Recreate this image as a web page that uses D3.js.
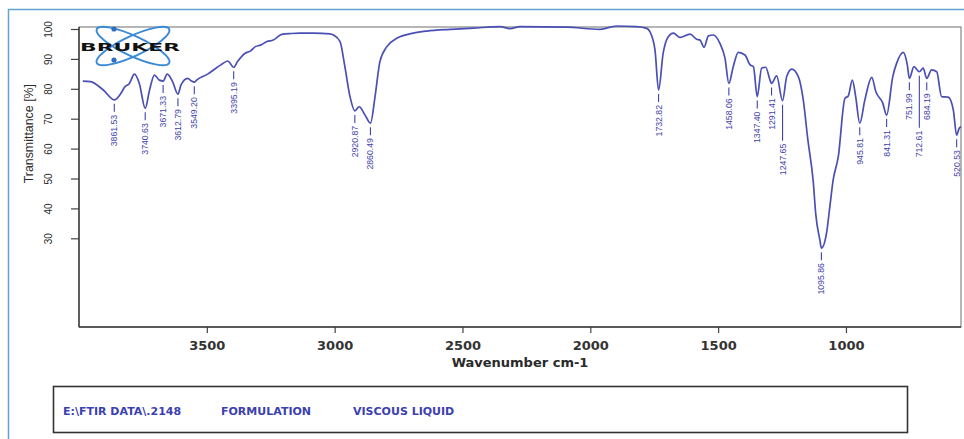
<!DOCTYPE html>
<html>
<head>
<meta charset="utf-8">
<script src="https://cdn.jsdelivr.net/npm/d3@7"></script>
<style>
  body { margin: 0; background: #fff; }
  svg { display: block; }
</style>
</head>
<body>
<div class="chart"></div>
<script>
// spectrum (wavenumber cm-1, transmittance %)
const wavenumber = [3985, 3955, 3905, 3862, 3836, 3822, 3803, 3783, 3764, 3741, 3724, 3705, 3686, 3671, 3655, 3634,
  3613, 3601, 3575, 3560, 3549, 3540, 3497, 3445, 3418, 3395, 3380, 3350, 3330, 3310, 3290, 3265, 3240, 3207,
  3170, 3135, 3083, 3018, 3005, 2979, 2960, 2940, 2921, 2904, 2881, 2860, 2842, 2823, 2796, 2757, 2692, 2640,
  2549, 2458, 2353, 2314, 2275, 2092, 1962, 1897, 1819, 1779, 1767, 1747, 1733, 1715, 1695, 1675, 1649, 1610,
  1584, 1571, 1555, 1538, 1519, 1493, 1473, 1458, 1441, 1421, 1395, 1375, 1362, 1347, 1330, 1314, 1297, 1291,
  1271, 1248, 1232, 1212, 1186, 1167, 1149, 1128, 1118, 1102, 1096, 1076, 1063, 1050, 1030, 1004, 991, 975,
  962, 946, 926, 899, 883, 856, 841, 817, 802, 776, 760, 752, 734, 713, 698, 684, 665, 645, 626, 600, 580,
  567, 557, 550];
const transmittance = [82.6, 82.4, 79.6, 76.3, 78.5, 80.5, 81.8, 84.9, 81.8, 73.5, 79.6, 84.6, 82.9, 82.6, 84.9, 82.4,
  78.2, 81.3, 83.5, 82.6, 82.2, 82.9, 84.9, 88.0, 89.3, 87.2, 89.1, 91.9, 92.6, 94.1, 94.6, 95.8, 96.3, 98.2,
  98.5, 98.6, 98.6, 98.4, 98.0, 95.8, 87.4, 77.4, 72.6, 74.0, 71.2, 68.5, 77.4, 89.1, 94.1, 96.9, 98.6, 99.3,
  99.9, 100.3, 100.8, 100.1, 100.8, 100.6, 99.9, 101.0, 100.8, 100.2, 99.1, 93.0, 79.6, 91.9, 97.4, 98.6, 97.2, 98.3,
  96.6, 96.3, 93.9, 97.7, 98.0, 95.2, 90.2, 81.8, 87.4, 92.2, 91.3, 88.0, 87.4, 77.4, 86.9, 87.2, 82.9, 81.8,
  84.3, 76.0, 84.0, 86.6, 84.0, 76.3, 62.9, 49.0, 38.0, 29.4, 26.7, 31.7, 40.6, 49.5, 57.3, 76.8, 77.6, 82.9,
  77.4, 68.5, 76.3, 83.8, 79.0, 75.2, 71.2, 84.0, 88.5, 92.2, 88.0, 83.5, 87.4, 85.7, 86.9, 83.5, 86.3, 85.7, 77.4, 77.2, 72.9,
  64.5, 66.8, 67.3];

const peakLabels = [3861.53, 3740.63, 3671.33, 3612.79, 3549.20, 3395.19, 2920.87, 2860.49, 1732.82, 1458.06,
  1347.40, 1291.41, 1247.65, 1095.86, 945.81, 841.31, 751.99, 712.61, 684.19, 520.53];

const xTicks = [3500, 3000, 2500, 2000, 1500, 1000];
const yTicks = [30, 40, 50, 60, 70, 80, 90, 100];
const footerText = ["E:\\FTIR DATA\\.2148", "FORMULATION", "VISCOUS LIQUID"];

const width = 964;
const height = 439;
const margin = {top: 27, right: 3, bottom: 112, left: 79};
const lineColor = "#4a4fb5";
const labelColor = "#3f43ab";

const svg = d3.select(".chart")
  .append("svg")
  .attr("width", width)
  .attr("height", height);

// outer blue frame (runs off the right and bottom of the picture)
svg.append("rect")
  .attr("x", 8.5).attr("y", 9.5)
  .attr("width", 1000).attr("height", 500)
  .attr("fill", "none")
  .attr("stroke", "#62a5d1")
  .attr("stroke-width", 1.5);

const x = d3.scaleLinear()
  .domain([4000, 550])
  .range([margin.left, width - margin.right]);

const y = d3.scaleLinear()
  .domain([0, 100])
  .range([328, 29]);

const plotBottom = height - margin.bottom;

// plot box
svg.append("rect")
  .attr("x", margin.left).attr("y", margin.top)
  .attr("width", width - margin.right - margin.left)
  .attr("height", plotBottom - margin.top)
  .attr("fill", "none")
  .attr("stroke", "#858585")
  .attr("stroke-width", 1.2);

// x axis
const xAxis = svg.append("g")
  .attr("transform", `translate(0,${plotBottom})`)
  .call(d3.axisBottom(x).tickValues(xTicks).tickSize(6).tickPadding(8).tickFormat(d3.format("d")));
xAxis.select(".domain").remove();
xAxis.selectAll("line").attr("stroke", "#444").attr("stroke-width", 1.2);
xAxis.selectAll("text")
  .attr("fill", "#333")
  .style("font-family", "DejaVu Sans")
  .style("font-weight", "bold")
  .style("font-size", "13px");

// y axis, labels turned like the original
const yAxis = svg.append("g")
  .attr("transform", `translate(${margin.left},0)`)
  .call(d3.axisLeft(y).tickValues(yTicks).tickSize(8));
yAxis.select(".domain").remove();
yAxis.selectAll("line").attr("stroke", "#444").attr("stroke-width", 1.2);
yAxis.selectAll("text")
  .attr("x", null).attr("dy", null)
  .attr("transform", "translate(-27.5,0) rotate(-90)")
  .attr("text-anchor", "middle")
  .attr("fill", "#2a2a2a")
  .style("font-family", "Liberation Sans")
  .style("font-size", "10px");

// dark left and bottom axis lines
svg.append("line")
  .attr("x1", margin.left).attr("x2", margin.left)
  .attr("y1", margin.top).attr("y2", plotBottom)
  .attr("stroke", "#3a3a3a").attr("stroke-width", 1.4);
svg.append("line")
  .attr("x1", margin.left).attr("x2", width - margin.right)
  .attr("y1", plotBottom).attr("y2", plotBottom)
  .attr("stroke", "#3a3a3a").attr("stroke-width", 1.4);

// axis titles
svg.append("text")
  .attr("x", (margin.left + width - margin.right) / 2)
  .attr("y", 367)
  .attr("text-anchor", "middle")
  .attr("fill", "#2a2a2a")
  .style("font-family", "DejaVu Sans")
  .style("font-weight", "bold")
  .style("font-size", "13px")
  .text("Wavenumber cm-1");

svg.append("text")
  .attr("transform", `translate(32.5,${y(65)}) rotate(-90)`)
  .attr("text-anchor", "middle")
  .attr("fill", "#2a2a2a")
  .style("font-family", "Liberation Sans")
  .style("font-size", "12.4px")
  .text("Transmittance [%]");

// bruker logo
const logo = svg.append("g").attr("transform", "translate(133,46)");
[-25, 25].forEach(a => {
  logo.append("ellipse")
    .attr("rx", 40).attr("ry", 10)
    .attr("transform", `rotate(${a})`)
    .attr("fill", "none")
    .attr("stroke", "#3b8ad6")
    .attr("stroke-width", 2);
});
[[-19, -17], [-19, 14]].forEach(p => {
  logo.append("circle").attr("cx", p[0]).attr("cy", p[1]).attr("r", 2.6).attr("fill", "#2f6fc0");
});
logo.append("text")
  .attr("x", -3).attr("y", 5)
  .attr("text-anchor", "middle")
  .attr("textLength", 100)
  .attr("lengthAdjust", "spacingAndGlyphs")
  .attr("fill", "#111")
  .style("font-family", "DejaVu Sans")
  .style("font-weight", "bold")
  .style("font-size", "11px")
  .text("BRUKER");

// spectrum
const spectrum = wavenumber.map((w, i) => [w, transmittance[i]]);
svg.append("path")
  .datum(spectrum)
  .attr("fill", "none")
  .attr("stroke", lineColor)
  .attr("stroke-width", 1.7)
  .attr("d", d3.line().x(d => x(d[0])).y(d => y(d[1])).curve(d3.curveMonotoneX));

// peak labels sit on the nearest dip of the trace
const dips = spectrum.filter((d, i) => i > 0 && i < spectrum.length - 1 &&
  d[1] < spectrum[i - 1][1] && d[1] < spectrum[i + 1][1]);
const longLead = new Map([[1247.65, 36], [712.61, 52]]);

const peaks = svg.append("g");
peakLabels.forEach(v => {
  const dip = dips.reduce((a, b) => Math.abs(b[0] - v) < Math.abs(a[0] - v) ? b : a);
  const px = x(dip[0]);
  const top = y(dip[1]) + 4;
  const lead = longLead.get(v) || 8;
  peaks.append("line")
    .attr("x1", px).attr("x2", px)
    .attr("y1", top).attr("y2", top + lead)
    .attr("stroke", labelColor).attr("stroke-width", 1.1);
  peaks.append("text")
    .attr("transform", `translate(${px},${top + lead + 3}) rotate(-90)`)
    .attr("text-anchor", "end")
    .attr("dy", "0.35em")
    .attr("fill", labelColor)
    .style("font-family", "Liberation Sans")
    .style("font-size", "8.7px")
    .text(v.toFixed(2));
});

// footer box
svg.append("rect")
  .attr("x", 53.5).attr("y", 386.5)
  .attr("width", 854).attr("height", 46)
  .attr("fill", "none")
  .attr("stroke", "#333")
  .attr("stroke-width", 1.6);

svg.append("g")
  .selectAll("text")
  .data(footerText)
  .join("text")
  .attr("x", (d, i) => [63, 221, 353][i])
  .attr("y", 415)
  .attr("fill", "#3b40b0")
  .style("font-family", "DejaVu Sans")
  .style("font-weight", "bold")
  .style("font-size", "11px")
  .text(d => d);
</script>
</body>
</html>
